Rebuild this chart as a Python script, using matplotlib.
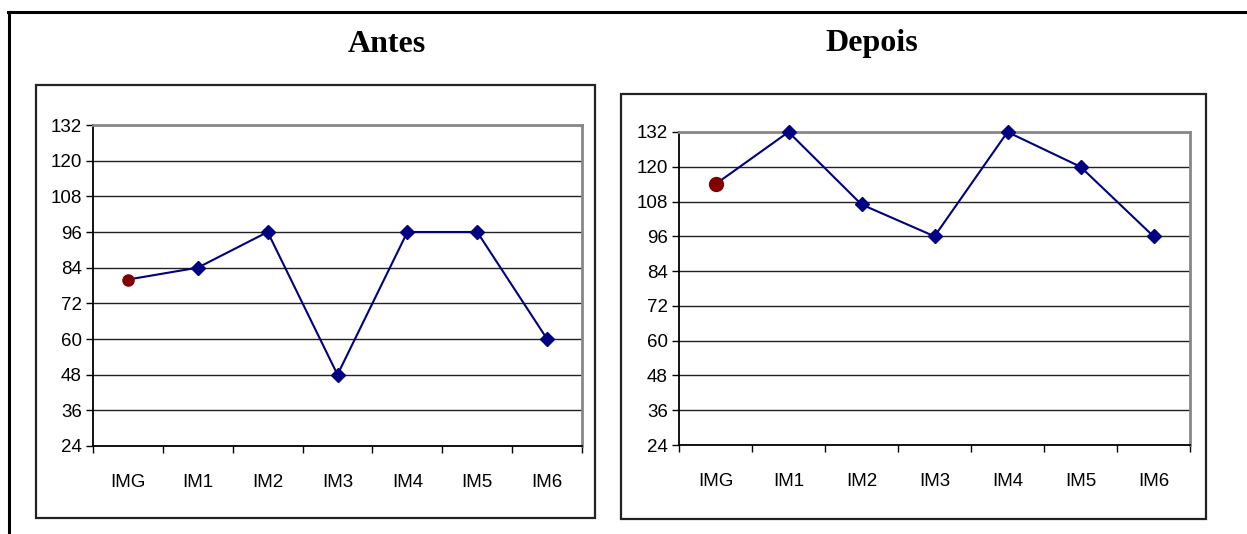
import numpy as np
import matplotlib.pyplot as plt
from matplotlib.patches import Rectangle
from matplotlib.lines import Line2D

categorias = ["IMG", "IM1", "IM2", "IM3", "IM4", "IM5", "IM6"]
antes = [80, 84, 96, 48, 96, 96, 60]
depois = [114, 132, 107, 96, 132, 120, 96]
titulos = ["Antes", "Depois"]
yticks = list(range(24, 133, 12))

W, H = 1247, 534
fig = plt.figure(figsize=(W / 100, H / 100), dpi=100)

def fx(px):
    return px / W

def fy(py):
    return 1 - py / H

# moldura externa (so topo e lado esquerdo aparecem)
fig.add_artist(Line2D([fx(8), 1], [fy(12), fy(12)], color='black', lw=2.2, transform=fig.transFigure))
fig.add_artist(Line2D([fx(9), fx(9)], [fy(12), 0], color='black', lw=2.2, transform=fig.transFigure))

# caixas de cada grafico: (x0, y0, x1, y1) em pixels
caixas = [(36, 85, 595, 518), (621, 94, 1206, 519)]
areas = [(93, 125, 582, 446), (679, 132, 1190, 445)]
titulo_x = [387, 872]
dados = [antes, depois]
tam_ponto = [8, 10]

for i in range(2):
    x0, y0, x1, y1 = caixas[i]
    fig.add_artist(Rectangle((fx(x0), fy(y1)), fx(x1) - fx(x0), fy(y0) - fy(y1),
                             fill=False, ec='#222222', lw=1.6, transform=fig.transFigure))
    fig.text(fx(titulo_x[i]), fy(44), titulos[i], ha='center', va='center',
             fontsize=23, fontweight='bold', family='Liberation Serif')

    a0, b0, a1, b1 = areas[i]
    ax = fig.add_axes([fx(a0), fy(b1), fx(a1) - fx(a0), fy(b0) - fy(b1)])
    x = np.arange(len(categorias))
    y = dados[i]
    # losangos em todos menos o IMG, que leva um circulo vermelho
    ax.plot(x, y, color='#000080', lw=1.5, marker='D', markersize=7,
            markevery=list(range(1, len(x))),
            markerfacecolor='#000080', markeredgecolor='#000080', zorder=3, clip_on=False)
    ax.plot(x[0], y[0], 'o', color='#800000', markersize=tam_ponto[i], zorder=4, clip_on=False)

    ax.set_xlim(-0.5, 6.5)
    ax.set_ylim(24, 132)
    ax.set_yticks(yticks)
    ax.set_yticklabels([str(v) for v in yticks], family='Liberation Sans', fontsize=13.5)
    ax.yaxis.grid(True, color='#222222', lw=1.0)
    ax.set_axisbelow(True)

    ax.set_xticks(np.arange(-0.5, 7, 1))
    ax.set_xticklabels([])
    ax.set_xticks(x, minor=True)
    ax.set_xticklabels(categorias, minor=True, family='Liberation Sans', fontsize=13.5)
    ax.tick_params(axis='x', which='minor', length=0, pad=20)
    ax.tick_params(axis='y', which='major', pad=3)
    ax.tick_params(axis='both', which='major', direction='out', length=5, width=1, color='black')

    ax.spines['top'].set_color('#888888')
    ax.spines['right'].set_color('#888888')
    ax.spines['top'].set_linewidth(2)
    ax.spines['right'].set_linewidth(2)
    ax.spines['left'].set_color('black')
    ax.spines['bottom'].set_color('black')
    ax.spines['left'].set_linewidth(1.3)
    ax.spines['bottom'].set_linewidth(1.3)

plt.savefig("out.png", dpi=100)
